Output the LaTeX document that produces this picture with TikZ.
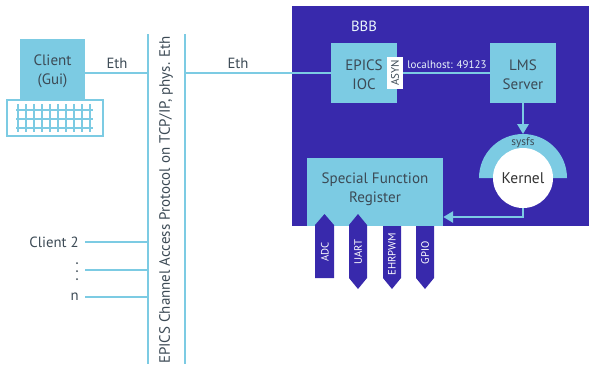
\documentclass[tikz,border=0pt]{standalone}
\usepackage{fontspec}
\setmainfont{PT Sans}
\usetikzlibrary{arrows.meta}
\definecolor{bbbblue}{HTML}{3829AC}
\definecolor{lightcyan}{HTML}{7CCBE3}
\definecolor{darktext}{HTML}{3C4A55}
\tikzset{
  box/.style={fill=lightcyan, inner sep=0pt},
  boxtext/.style={text=darktext, align=center, inner sep=0pt, font=\fontsize{10.7}{13.5}\selectfont},
  wire/.style={draw=lightcyan, line width=1.4pt},
  grid/.style={draw=lightcyan, line width=1.8pt},
  lbl/.style={text=darktext, inner sep=0pt, font=\fontsize{10.5}{12}\selectfont},
  pinlbl/.style={text=white, rotate=90, inner sep=0pt, font=\fontsize{7.6}{8}\selectfont}
}
\begin{document}
\begin{tikzpicture}[x=0.025cm, y=-0.025cm]
  \useasboundingbox (0, 0) rectangle (589, 364);
  % board
  \fill[bbbblue] (292, 6) rectangle (589, 226);
  \node[text=white!85!lightcyan, inner sep=0pt, font=\fontsize{10.5}{12}\selectfont] (bbb) at (364, 26) {BBB};

  % bus
  \coordinate (busltop) at (148, 34);
  \coordinate (buslbot) at (148, 364);
  \coordinate (busrtop) at (185, 34);
  \coordinate (busrbot) at (185, 364);
  \draw[wire] (busltop) -- (buslbot);
  \draw[wire] (busrtop) -- (busrbot);
  \node[lbl, rotate=90, font=\fontsize{10.65}{12}\selectfont] (proto) at (166, 200) {EPICS Channel Access Protocol on TCP/IP, phys. Eth};

  % client with keyboard
  \node[box, minimum width=1.63cm, minimum height=1.53cm] (client) at (52.5, 69.5) {};
  \node[boxtext] (clienttext) at (52.5, 71) {Client\\(Gui)};
  \draw[wire] (7, 100) rectangle (103, 136);
  \foreach \x in {18, 26, 34, 42, 50, 58, 66, 74, 82, 90} {
    \draw[grid] (\x, 104) -- (\x, 132);
  }
  \foreach \y in {110, 119, 128} {
    \draw[grid] (16, \y) -- (93, \y);
  }
  \draw[wire] (client.east |- 0, 73) -- (148, 73);
  \node[lbl] (eth1) at (117, 63) {Eth};

  % other clients
  \node[lbl, anchor=east] (client2) at (79, 242) {Client 2};
  \node[lbl, anchor=east] (clientn) at (79, 297) {n};
  \coordinate (dots) at (79, 270);
  \foreach \y in {263, 271, 279} {
    \fill[darktext] (77, \y) circle (1);
  }
  \draw[wire] (85, 242) -- (148, 242);
  \draw[wire] (85, 270) -- (148, 270);
  \draw[wire] (85, 297) -- (148, 297);

  % boxes on the board
  \node[box, minimum width=1.65cm, minimum height=1.5cm] (ioc) at (364, 73) {};
  \node[boxtext] (ioctext) at (364, 75) {EPICS\\IOC};
  \node[box, minimum width=1.65cm, minimum height=1.5cm] (lms) at (523, 73) {};
  \node[boxtext] (lmstext) at (523, 75) {LMS\\Server};
  \node[fill=white, text=darktext, rotate=90, minimum width=0.8cm, minimum height=0.4cm, inner sep=0pt, font=\fontsize{7.8}{8}\selectfont] (asyn) at (395, 73) {ASYN};
  \draw[wire] (185, 73) -- (ioc.west);
  \draw[wire] (asyn.south) -- (lms.west);
  \node[lbl] (eth2) at (238, 63) {Eth};
  \node[text=white!85!lightcyan, inner sep=0pt, font=\fontsize{7.8}{9}\selectfont] (port) at (447, 65) {localhost: 49123};

  % kernel
  \fill[lightcyan] (479, 178) arc (180:360:44) -- cycle;
  \node[circle, fill=white, minimum size=1.5cm, inner sep=0pt, text=black!80, font=\fontsize{11}{12}\selectfont] (kernel) at (523, 178) {Kernel};
  \node[text=darktext, inner sep=0pt, font=\fontsize{8}{9}\selectfont] (sysfs) at (523, 143) {sysfs};
  \draw[wire, -{Triangle[length=7pt, width=8pt]}] (lms.south) -- (523, 134);

  % register and pins
  \node[box, minimum width=3.4cm, minimum height=1.7cm] (sfr) at (375, 192) {};
  \node[boxtext] (sfrtext) at (375, 189.5) {Special Function\\Register};
  \draw[wire, -{Triangle[length=7pt, width=8pt]}] (kernel.south) |- (sfr.east |- 0, 217);

  \fill[bbbblue] (315, 226) -- (315, 225) -- (324.5, 214) -- (334, 225) -- (334, 278) -- (315, 278) -- cycle;
  \fill[bbbblue] (349, 225) -- (358, 214) -- (367, 225) -- (367, 278) -- (358, 289) -- (349, 278) -- cycle;
  \foreach \x in {383, 416} {
    \fill[bbbblue] (\x, 226) -- (\x + 18, 226) -- (\x + 18, 278) -- (\x + 9, 289) -- (\x, 278) -- cycle;
  }
  \node[pinlbl] (adc) at (325, 252) {ADC};
  \node[pinlbl] (uart) at (358, 252) {UART};
  \node[pinlbl] (pwm) at (392, 254) {EHRPWM};
  \node[pinlbl] (gpio) at (425, 253) {GPIO};
\end{tikzpicture}
\end{document}
